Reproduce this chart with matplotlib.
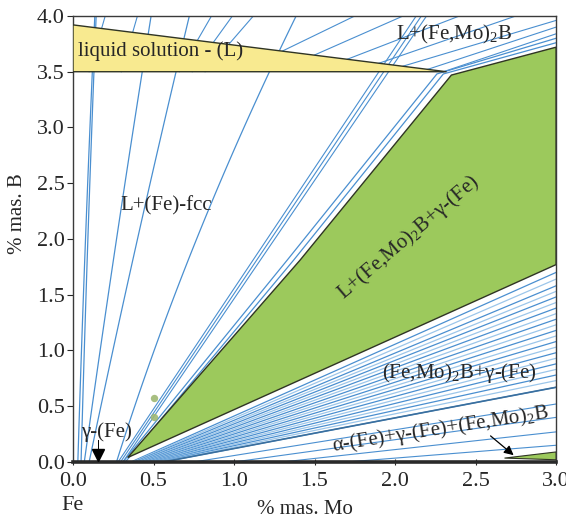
import numpy as np
import matplotlib.pyplot as plt
from matplotlib.patches import Polygon

plt.rcParams['font.family'] = ['Liberation Serif', 'DejaVu Serif']
plt.rcParams['mathtext.fontset'] = 'custom'
plt.rcParams['mathtext.rm'] = 'Liberation Serif'

# ---- phase fields (% mas. Mo, % mas. B) ----
liquid_x = [0.0, 2.32, 0.0]
liquid_y = [3.92, 3.50, 3.50]

three_x = [0.34, 1.41, 2.35, 3.0, 3.0]
three_y = [0.04, 1.81, 3.47, 3.72, 1.77]

strip_x = [2.68, 3.0, 3.0]
strip_y = [0.035, 0.09, 0.02]

# L+(Fe)-fcc tie lines, Mo at B = 0, 1.9 and 3.5
fcc_b = [0.0, 1.9, 3.5]
fcc_x0 = [0.03, 0.05, 0.07, 0.10, 0.27]
fcc_x1 = [0.075, 0.09, 0.26, 0.385, 0.74]
fcc_x2 = [0.12, 0.13, 0.43, 0.64, 1.22]

# lines running next to the three-phase field
side_x0 = [0.28, 0.295, 0.31]
side_x1 = [1.90, 1.93, 1.96]

edge_x = [[0.31, 1.33, 2.26, 3.0], [0.325, 1.37, 2.30, 3.0]]
edge_y = [[0.0, 1.81, 3.48, 3.80], [0.0, 1.81, 3.48, 3.76]]

# tie lines above the liquid
top_x0 = [0.10, 0.30, 0.66, 0.74, 0.82]
top_x1 = [0.20, 0.40, 0.86, 0.99, 1.12]

liq_x0 = [1.30, 1.50, 1.70, 1.90, 2.05, 2.20, 2.30]
liq_y0 = [3.685, 3.65, 3.61, 3.576, 3.55, 3.52, 3.50]
liq_x1 = [1.75, 2.05, 2.40, 2.75, 3.0, 3.0, 3.0]
liq_y1 = [4.0, 4.0, 4.0, 4.0, 3.96, 3.90, 3.84]

# (Fe,Mo)2B + gamma-(Fe) tie lines: start on Mo axis, end at Mo = 3.0
fan_x0 = [0.36, 0.37, 0.38, 0.39, 0.40, 0.41, 0.42, 0.43, 0.44, 0.45, 0.46,
          0.47, 0.48, 0.49, 0.50, 0.51, 0.52, 0.53, 0.54, 0.55, 0.56]
fan_y1 = [1.70, 1.64, 1.58, 1.53, 1.48, 1.43, 1.38, 1.33, 1.28, 1.23, 1.18,
          1.13, 1.08, 1.03, 0.98, 0.93, 0.88, 0.83, 0.78, 0.73, 0.67]

# alpha + gamma + (Fe,Mo)2B tie lines
alpha_x0 = [0.75, 1.0, 1.3, 1.7]
alpha_y1 = [0.52, 0.40, 0.27, 0.15]

# measured alloys
dots_x = [0.50, 0.50]
dots_y = [0.57, 0.40]

blue = '#4a8fd0'
light = '#9cc6ea'
dark = '#2f3424'
txt = '#262626'
fs = 15

fig = plt.figure(figsize=(5.66, 5.17), dpi=100)
ax = fig.add_axes([0.129, 0.1064, 0.8534, 0.8627])

# fcc tie lines (quadratic through the three read points)
bb = np.linspace(0, 4.0, 60)
for i in range(len(fcc_x0)):
    c = np.polyfit(fcc_b, [fcc_x0[i], fcc_x1[i], fcc_x2[i]], 2)
    ax.plot(np.polyval(c, bb), bb, color=blue, lw=0.9, zorder=2)

for a, b in zip(side_x0, side_x1):
    ax.plot([a, a + (b - a) * 4.0 / 3.5], [0, 4.0], color=blue, lw=0.8, zorder=2)
for xs, ys in zip(edge_x, edge_y):
    ax.plot(xs, ys, color=blue, lw=0.9, zorder=2)
for a, b in zip(top_x0, top_x1):
    ax.plot([a, b], [3.5, 4.0], color=blue, lw=0.8, zorder=2)
for a, b, c, d in zip(liq_x0, liq_y0, liq_x1, liq_y1):
    ax.plot([a, c], [b, d], color=blue, lw=0.8, zorder=2)

for i, (a, b) in enumerate(zip(fan_x0, fan_y1)):
    col = blue if i % 2 == 0 else light
    ax.plot([a, 3.0], [0, b], color=col, lw=0.9, zorder=2)
ax.plot([fan_x0[-1], 3.0], [0, fan_y1[-1]], color='#3a6f9e', lw=1.2, zorder=2)

for a, b in zip(alpha_x0, alpha_y1):
    ax.plot([a, 3.0], [0, b], color=blue, lw=0.8, zorder=2)

# phase fields on top of the tie lines
ax.add_patch(Polygon(np.column_stack([liquid_x, liquid_y]), closed=True,
                     facecolor='#f8ea90', edgecolor=dark, lw=1.0, zorder=3))
ax.add_patch(Polygon(np.column_stack([three_x, three_y]), closed=True,
                     facecolor='#9cc95c', edgecolor=dark, lw=1.0, zorder=3))
ax.add_patch(Polygon(np.column_stack([strip_x, strip_y]), closed=True,
                     facecolor='#9cc95c', edgecolor=dark, lw=0.8, zorder=3))

ax.scatter(dots_x, dots_y, s=28, color='#9fb873', alpha=0.9, zorder=6, lw=0)

# labels
ax.text(0.03, 3.685, 'liquid solution - (L)', fontsize=fs, color=txt,
        va='center', ha='left', zorder=5)
ax.text(2.37, 3.83, r'L+(Fe,Mo)$_{\mathregular{2}}$B', fontsize=fs, color=txt,
        va='center', ha='center', zorder=5)
ax.text(0.58, 2.3, 'L+(Fe)-fcc', fontsize=fs, color=txt,
        va='center', ha='center', zorder=5)
ax.text(2.08, 2.01, r'L+(Fe,Mo)$_{\mathregular{2}}$B+γ-(Fe)', fontsize=fs,
        color=txt, rotation=40.5, va='center', ha='center', zorder=5)
ax.text(2.4, 0.8, r'(Fe,Mo)$_{\mathregular{2}}$B+γ-(Fe)', fontsize=fs,
        color=txt, va='center', ha='center', zorder=5)
ax.text(2.28, 0.29, r'α-(Fe)+γ-(Fe)+(Fe,Mo)$_{\mathregular{2}}$B', fontsize=fs,
        color=txt, rotation=8.8, va='center', ha='center', zorder=5)
ax.text(0.21, 0.27, 'γ-(Fe)', fontsize=fs, color=txt,
        va='center', ha='center', zorder=5)

ax.annotate('', xy=(2.75, 0.045), xytext=(2.58, 0.25),
            arrowprops=dict(arrowstyle='-|>', color='k', lw=0.9,
                            mutation_scale=14), zorder=5)
ax.plot([0.155, 0.155], [0.07, 0.2], color='k', lw=0.7, zorder=5)
ax.plot(0.155, 0.065, marker='v', color='k', markersize=8, zorder=5)

ax.set_xlim(0, 3.0)
ax.set_ylim(0, 4.0)
ax.set_xticks(np.arange(0, 3.01, 0.5))
ax.set_yticks(np.arange(0, 4.01, 0.5))
ax.set_xticklabels(['%.1f' % v for v in np.arange(0, 3.01, 0.5)])
ax.set_yticklabels(['%.1f' % v for v in np.arange(0, 4.01, 0.5)])
ax.tick_params(axis='x', direction='inout', length=5, labelsize=16,
               colors=txt, pad=5)
ax.tick_params(axis='y', direction='out', length=4, labelsize=16,
               colors=txt, pad=2)
for s in ax.spines.values():
    s.set_color('#3a3a3a')
    s.set_linewidth(1.0)
ax.spines['bottom'].set_linewidth(2.6)
ax.spines['bottom'].set_color('#2a2a2a')

fig.text(73 / 566, 1 - 505 / 517, 'Fe', fontsize=16, color=txt,
         ha='center', va='center')
fig.text(305 / 566, 1 - 509 / 517, '% mas. Mo', fontsize=15, color=txt,
         ha='center', va='center')
fig.text(17 / 566, 1 - 214 / 517, '% mas. B', fontsize=15, color=txt,
         ha='center', va='center', rotation=90)

fig.savefig('out.png', dpi=100)
